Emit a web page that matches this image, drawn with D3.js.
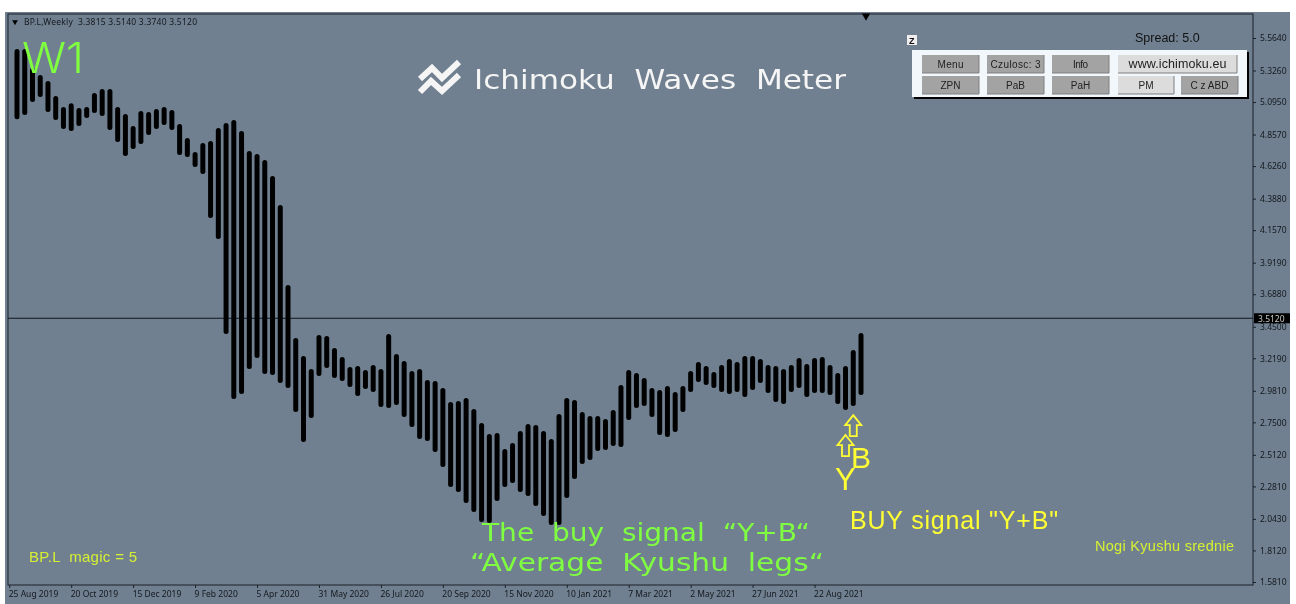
<!DOCTYPE html>
<html>
<head>
<meta charset="utf-8">
<script src="https://cdn.jsdelivr.net/npm/d3@7/dist/d3.min.js"></script>
<style>
html, body { margin: 0; padding: 0; background: #fff; overflow: hidden; }
svg { display: block; filter: blur(0.35px); }
text { white-space: pre; }
</style>
</head>
<body>
<div id="chart"></div>
<script>
var width = 1296;
var height = 604;

// weekly bars (first bar = one week after the first tick)
var highs = [5.483, 5.483, 5.344, 5.293, 5.249, 5.139, 5.058, 5.087, 5.051, 5.058,
    5.161, 5.190, 5.190, 5.058, 5.007, 4.919, 5.029, 5.022, 5.044, 5.058,
    5.036, 4.934, 4.831, 4.729, 4.795, 4.809, 4.905, 4.941, 4.963, 4.883,
    4.736, 4.714, 4.670, 4.553, 4.341, 3.755, 3.367, 3.235, 3.140, 3.389,
    3.382, 3.294, 3.228, 3.155, 3.162, 3.133, 3.170, 3.140, 3.396, 3.250,
    3.199, 3.126, 3.140, 3.060, 3.052, 3.001, 2.899, 2.906, 2.928, 2.847,
    2.745, 2.664, 2.672, 2.555, 2.599, 2.686, 2.738, 2.730, 2.686, 2.628,
    2.811, 2.928, 2.913, 2.826, 2.796, 2.796, 2.774, 2.840, 3.023, 3.133,
    3.111, 3.074, 3.001, 2.986, 3.016, 2.972, 3.016, 3.126, 3.192, 3.162,
    3.118, 3.170, 3.214, 3.192, 3.235, 3.235, 3.214, 3.170, 3.162, 3.140,
    3.170, 3.221, 3.177, 3.221, 3.228, 3.170, 3.111, 3.162, 3.279, 3.404];
var lows = [4.970, 5.000, 5.095, 5.132, 5.022, 4.963, 4.897, 4.883, 4.919, 4.978,
    5.014, 4.992, 4.890, 4.802, 4.700, 4.751, 4.787, 4.853, 4.897, 4.927,
    4.890, 4.707, 4.692, 4.619, 4.568, 4.246, 4.092, 3.396, 2.921, 2.957,
    3.140, 3.221, 3.104, 3.096, 3.038, 3.001, 2.826, 2.606, 2.782, 3.089,
    3.148, 3.074, 3.052, 3.009, 2.943, 2.994, 2.972, 2.862, 2.855, 2.877,
    2.789, 2.716, 2.628, 2.613, 2.533, 2.423, 2.276, 2.240, 2.159, 2.093,
    2.020, 2.013, 2.174, 2.276, 2.306, 2.240, 2.211, 2.137, 2.064, 1.998,
    1.998, 2.196, 2.335, 2.445, 2.474, 2.540, 2.547, 2.577, 2.569, 2.767,
    2.855, 2.869, 2.789, 2.657, 2.642, 2.679, 2.826, 2.972, 3.045, 3.023,
    3.001, 2.972, 2.957, 2.972, 2.935, 2.986, 3.038, 2.965, 2.899, 2.884,
    2.972, 3.001, 2.935, 2.965, 2.965, 2.950, 2.884, 2.840, 2.869, 2.950];

var priceTicks = [5.5640, 5.3260, 5.0950, 4.8570, 4.6260, 4.3880, 4.1570, 3.9190, 3.6880, 3.4500, 3.2190, 2.9810, 2.7500, 2.5120, 2.2810, 2.0430, 1.8120, 1.5810];
var dateLabels = ["25 Aug 2019", "20 Oct 2019", "15 Dec 2019", "9 Feb 2020", "5 Apr 2020", "31 May 2020", "26 Jul 2020", "20 Sep 2020", "15 Nov 2020", "10 Jan 2021", "7 Mar 2021", "2 May 2021", "27 Jun 2021", "22 Aug 2021"];
var dateBars = [-1, 7, 15, 23, 31, 39, 47, 55, 63, 71, 79, 87, 95, 103];

var lastPrice = 3.5120;
var arrowBars = [107, 108];   // bar index of the two signal arrows
var arrowTips = [2.657, 2.803];

var panelRow1 = ["Menu", "Czulosc: 3", "Info", "www.ichimoku.eu"];
var panelRow2 = ["ZPN", "PaB", "PaH", "PM", "C z ABD"];

var plot = { left: 8, right: 1253, top: 14, bottom: 585 };

var x = d3.scaleLinear().domain([0, 109]).range([17, 861]);
var y = d3.scaleLinear().domain([1.581, 5.564]).range([582, 38]);

var svg = d3.select("#chart")
    .append("svg")
    .attr("width", width)
    .attr("height", height)
    .attr("viewBox", [0, 0, width, height]);

// window + plot background
svg.append('rect')
    .attr('x', 5).attr('y', 12)
    .attr('width', 1285).attr('height', 592)
    .attr('fill', '#708090');

svg.append('rect')
    .attr('x', plot.left).attr('y', plot.top)
    .attr('width', plot.right - plot.left).attr('height', plot.bottom - plot.top)
    .attr('fill', '#708090')
    .attr('stroke', '#1a2028')
    .attr('stroke-width', 1);

// axes
var axisFont = '"Noto Sans", sans-serif';

var yAxis = d3.axisRight(y)
    .tickValues(priceTicks)
    .tickFormat(d3.format('.4f'))
    .tickSize(3)
    .tickPadding(4);

var gy = svg.append('g')
    .attr('transform', 'translate(' + plot.right + ',0)')
    .call(yAxis);
gy.select('.domain').remove();
gy.selectAll('line').attr('stroke', '#1a2028');
gy.selectAll('text')
    .attr('fill', '#14181e')
    .style('font-family', axisFont)
    .style('font-size', '8.5px');

var xAxis = d3.axisBottom(x)
    .tickValues(dateBars)
    .tickFormat(function(d, i) { return dateLabels[i] })
    .tickSize(3)
    .tickPadding(3);

var gx = svg.append('g')
    .attr('transform', 'translate(0,' + plot.bottom + ')')
    .call(xAxis);
gx.select('.domain').remove();
gx.selectAll('line').attr('stroke', '#1a2028');
gx.selectAll('text')
    .attr('text-anchor', 'start')
    .attr('x', -1)
    .attr('fill', '#14181e')
    .style('font-family', axisFont)
    .style('font-size', '8.5px');

// price line under the bars
svg.append('line')
    .attr('x1', plot.left).attr('x2', plot.right)
    .attr('y1', y(lastPrice)).attr('y2', y(lastPrice))
    .attr('stroke', '#10141a')
    .attr('stroke-width', 1);

// bars
svg.append('g').selectAll('rect')
    .data(highs)
    .enter().append('rect')
    .attr('x', function(d, i) { return x(i) - 2.5 })
    .attr('y', function(d) { return y(d) })
    .attr('width', 5)
    .attr('height', function(d, i) { return y(lows[i]) - y(d) })
    .attr('rx', 2.5)
    .attr('fill', '#000');

// last price tag
var tag = svg.append('g').attr('transform', 'translate(1254,' + y(lastPrice) + ')');
tag.append('rect')
    .attr('x', 0).attr('y', -5)
    .attr('width', 36).attr('height', 10)
    .attr('fill', '#000');
tag.append('text')
    .attr('x', 4).attr('y', 3.5)
    .attr('fill', '#c8c8c8')
    .style('font-family', axisFont)
    .style('font-size', '8.5px')
    .text(d3.format('.4f')(lastPrice));

// chart header
svg.append('path')
    .attr('d', d3.symbol().type(d3.symbolTriangle).size(14))
    .attr('transform', 'translate(15,22) rotate(180)')
    .attr('fill', '#000');
svg.append('text')
    .attr('x', 24).attr('y', 25)
    .attr('fill', '#14181e')
    .attr('textLength', 173)
    .style('font-family', axisFont)
    .style('font-size', '8.5px')
    .text('BP.L,Weekly  3.3815 3.5140 3.3740 3.5120');

// chart shift marker
svg.append('path')
    .attr('d', d3.symbol().type(d3.symbolTriangle).size(30))
    .attr('transform', 'translate(866,16) rotate(180)')
    .attr('fill', '#000');

// overlay texts
var wideFont = '"DejaVu Sans", sans-serif';
var armFont = '"Liberation Sans", Arial, sans-serif';

function label(txt, px, py, size, color, font, fit, adjust, weight) {
    var t = svg.append('text')
        .attr('x', px).attr('y', py)
        .attr('fill', color)
        .style('font-family', font)
        .style('font-size', size + 'px')
        .style('font-weight', weight || 400)
        .text(txt);
    if (fit) t.attr('textLength', fit).attr('lengthAdjust', adjust || 'spacing');
    return t;
}

label('W1', 22, 73, 42, '#7fff40', 'Inter, sans-serif', 62, 'spacingAndGlyphs', 300);
label('Ichimoku  Waves  Meter', 474, 89, 26, '#f5f5f5', wideFont, 372, 'spacingAndGlyphs');
label('The  buy  signal  \u201cY+B\u201c', 482, 541, 25, '#7fff40', wideFont, 328, 'spacingAndGlyphs');
label('\u201cAverage  Kyushu  legs\u201c', 470, 571, 25, '#7fff40', wideFont, 354, 'spacingAndGlyphs');
label('BUY signal "Y+B"', 850, 529, 25, '#ffff33', armFont, 208);
label('BP.L  magic = 5', 29, 562, 15, '#d6f032', armFont, 108);
label('Nogi Kyushu srednie', 1095, 551, 14.5, '#d6f032', armFont, 139);

// logo: two zigzag ribbons
var logo = svg.append('g').attr('fill', 'none').attr('stroke', '#f5f5f5').attr('stroke-width', 6);
logo.append('path').attr('d', 'M420,79 L432,68 L442,78 L459,62');
logo.append('path').attr('d', 'M420,92 L431,81 L442,91 L459,75');

// signal arrows
var arrowShape = 'M0,0 L8,10 L3.5,10 L3.5,21 L-3.5,21 L-3.5,10 L-8,10 Z';
svg.append('g').selectAll('path')
    .data(arrowBars)
    .enter().append('path')
    .attr('d', arrowShape)
    .attr('transform', function(d, i) {
        return 'translate(' + x(d) + ',' + y(arrowTips[i]) + ')'
    })
    .attr('fill', 'none')
    .attr('stroke', '#ffff33')
    .attr('stroke-width', 1.8);

label('Y', 835, 490, 31, '#ffff33', armFont);
label('B', 851, 468, 30, '#ffff33', armFont);

// panel
var panel = svg.append('g');
panel.append('rect').attr('x', 914).attr('y', 52).attr('width', 335).attr('height', 47).attr('fill', '#000');
panel.append('rect').attr('x', 912).attr('y', 50).attr('width', 335).attr('height', 47).attr('fill', '#f2f7fc');

function button(txt, bx, by, bw, fill, fit) {
    var b = panel.append('g');
    b.append('rect')
        .attr('x', bx).attr('y', by).attr('width', bw).attr('height', 18)
        .attr('fill', fill);
    b.append('path')
        .attr('d', 'M' + bx + ',' + (by + 18) + 'H' + (bx + bw) + 'V' + by)
        .attr('fill', 'none')
        .attr('stroke', '#7e7e7e');
    var t = b.append('text')
        .attr('x', bx + bw / 2).attr('y', by + 13)
        .attr('text-anchor', 'middle')
        .attr('fill', '#222')
        .style('font-family', armFont)
        .style('font-size', (bw > 100 ? 12.5 : 10) + 'px')
        .text(txt);
    if (fit) t.attr('textLength', fit);
}

var row1X = [922, 987, 1052, 1118];
var row1W = [57, 57, 57, 119];
var row1Fit = [26, 50, 15, 98];
var row2X = [922, 987, 1052, 1118, 1181];
var row2W = [57, 57, 57, 56, 57];
var gray = '#a3a3a3', light = '#dcdcdc';

panelRow1.forEach(function(t, i) { button(t, row1X[i], 55, row1W[i], i == 3 ? light : gray, row1Fit[i]) });
panelRow2.forEach(function(t, i) { button(t, row2X[i], 76, row2W[i], i == 3 ? light : gray) });

svg.append('rect').attr('x', 907).attr('y', 35).attr('width', 10).attr('height', 10).attr('fill', '#eeeeee');
label('Z', 909, 44, 9, '#111', armFont, null, null, 700);
label('Spread: 5.0', 1135, 42, 12.5, '#111', armFont);
</script>
</body>
</html>
